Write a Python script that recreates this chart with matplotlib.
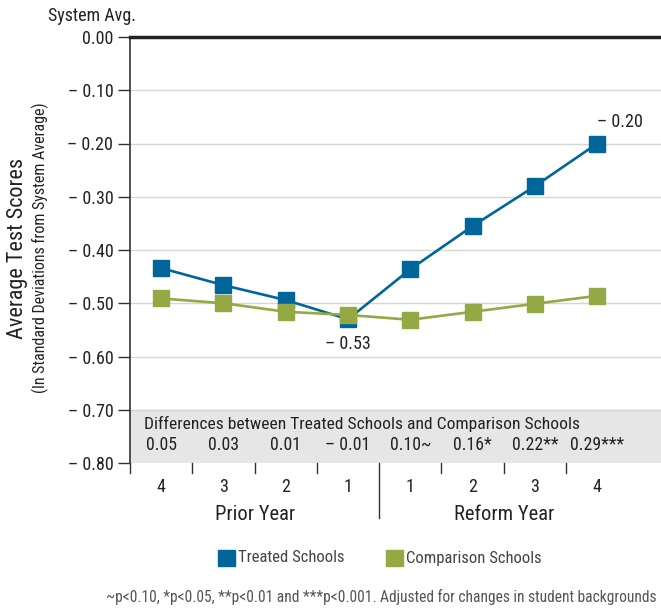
import matplotlib
matplotlib.use("Agg")
import matplotlib.pyplot as plt
from matplotlib.lines import Line2D
import numpy as np

plt.rcParams["font.family"] = ["Roboto Condensed", "DejaVu Sans"]

TREATED = "#006699"
COMPARISON = "#94a843"
INK = "#222222"

year_labels = ["4", "3", "2", "1", "1", "2", "3", "4"]
group_labels = ["Prior Year", "Reform Year"]
treated = [-0.434, -0.466, -0.494, -0.53, -0.436, -0.355, -0.28, -0.20]
comparison = [-0.491, -0.500, -0.516, -0.522, -0.531, -0.516, -0.501, -0.486]
differences = ["0.05", "0.03", "0.01", "\u2013 0.01", "0.10~", "0.16*", "0.22**", "0.29***"]
yticks = [0.0, -0.1, -0.2, -0.3, -0.4, -0.5, -0.6, -0.7, -0.8]

fig = plt.figure(figsize=(6.61, 6.10), dpi=100)
ax = fig.add_axes([130 / 661, 1 - 463 / 610, 531 / 661, 426 / 610])

x = np.arange(len(year_labels)) + 0.5
ax.set_xlim(0, 531 / 62.3)
ax.set_ylim(-0.8, 0.0)

# gray differences band
ax.axhspan(-0.8, -0.7, color="#e6e6e6", zorder=0)
for v in yticks[1:-1]:
    ax.axhline(v, color="#d6d6d6", lw=1, zorder=1)
ax.axhline(0.0, color=INK, lw=2.5, zorder=3, clip_on=False)

ax.plot(x, treated, color=TREATED, lw=1.9, marker="s", ms=11.5, zorder=4)
ax.plot(x, comparison, color=COMPARISON, lw=1.9, marker="s", ms=11.5, zorder=5)

ax.annotate("\u2013 0.20", (x[-1], treated[-1]), xytext=(16, 9), textcoords="offset points",
            ha="center", va="bottom", fontsize=13, color=INK)
ax.text(x[3], treated[3] - 0.03, "\u2013 0.53", ha="center", va="top", fontsize=13, color=INK)

ax.text(0.22, -0.727, "Differences between Treated Schools and Comparison Schools",
        ha="left", va="center", fontsize=12.6, color=INK)
for xi, d in zip(x, differences):
    ax.text(xi, -0.767, d, ha="center", va="center", fontsize=12.8, color=INK)

ax.set_yticks(yticks)
ax.set_yticklabels(["0.00"] + [f"\u2013 {abs(v):.2f}" for v in yticks[1:]], fontsize=13, color=INK)
ax.tick_params(axis="y", length=9, width=1, color="#333333", pad=3)
ax.set_xticks([])
for s in ["top", "right", "bottom"]:
    ax.spines[s].set_visible(False)
ax.spines["left"].set_color("#333333")
ax.spines["left"].set_linewidth(1.2)

# x category ticks below the axis
tick_len = 10 / 426 * 0.8
for i in range(len(year_labels)):
    ext = 55 / 426 * 0.8 if i == 4 else tick_len
    ax.add_line(Line2D([i, i], [-0.8, -0.8 - ext], color="#333333", lw=1, clip_on=False))
for xi, lab in zip(x, year_labels):
    ax.text(xi, -0.8 - 24 / 426 * 0.8, lab, ha="center", va="center", fontsize=13, color=INK)
ax.text(2.0, -0.8 - 52 / 426 * 0.8, group_labels[0], ha="center", va="center", fontsize=14.8, color=INK)
ax.text(6.0, -0.8 - 52 / 426 * 0.8, group_labels[1], ha="center", va="center", fontsize=14.8, color=INK)

fig.text(48 / 661, 1 - 16 / 610, "System Avg.", ha="left", va="center", fontsize=13, color=INK)
fig.text(18 / 661, 1 - 248 / 610, "Average Test Scores", rotation=90, ha="center", va="center",
         fontsize=16, color=INK)
fig.text(40 / 661, 1 - 248 / 610, "(In Standard Deviations from System Average)", rotation=90,
         ha="center", va="center", fontsize=11.5, color=INK)

# legend
fig.patches.append(plt.Rectangle((218 / 661, 1 - 566 / 610), 17 / 661, 16 / 610,
                                 transform=fig.transFigure, color=TREATED, figure=fig))
fig.text(238 / 661, 1 - 558 / 610, "Treated Schools", ha="left", va="center", fontsize=12, color="#444444")
fig.patches.append(plt.Rectangle((386 / 661, 1 - 566 / 610), 17 / 661, 16 / 610,
                                 transform=fig.transFigure, color=COMPARISON, figure=fig))
fig.text(406 / 661, 1 - 558 / 610, "Comparison Schools", ha="left", va="center", fontsize=12, color="#444444")

fig.text(657 / 661, 1 - 597 / 610,
         "~p<0.10, *p<0.05, **p<0.01 and ***p<0.001. Adjusted for changes in student backgrounds",
         ha="right", va="center", fontsize=11.2, color="#555555")

fig.savefig("out.png", dpi=100)
